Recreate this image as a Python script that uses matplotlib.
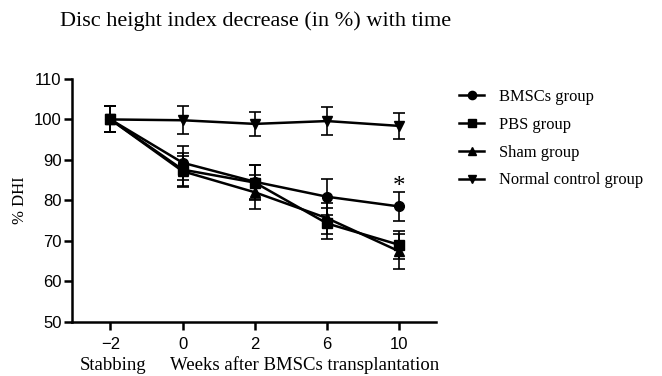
import matplotlib.pyplot as plt

# % DHI over time, four groups
weeks = ["\u22122", "0", "2", "6", "10"]
bmsc = [100, 89.3, 84.6, 80.9, 78.5]
bmsc_err = [3.2, 4.2, 4.2, 4.4, 3.5]
pbs = [100, 87.6, 84.4, 74.3, 69.0]
pbs_err = [3.2, 4.0, 4.3, 3.8, 3.5]
sham = [100, 87.2, 82.0, 75.6, 67.4]
sham_err = [3.2, 3.8, 4.2, 3.8, 4.4]
normal = [100, 99.8, 98.9, 99.6, 98.4]
normal_err = [3.2, 3.4, 3.0, 3.5, 3.3]

serif = ["Liberation Serif", "DejaVu Serif"]
sans = ["Liberation Sans", "DejaVu Sans"]

fig = plt.figure(figsize=(6.62, 3.76), dpi=100)
ax = fig.add_axes([0.109, 0.144, 0.55, 0.646])

x = list(range(len(weeks)))
series = [(bmsc, bmsc_err, "o", "BMSCs group"),
          (pbs, pbs_err, "s", "PBS group"),
          (sham, sham_err, "^", "Sham group"),
          (normal, normal_err, "v", "Normal control group")]
handles = []
for vals, err, m, lab in series:
    c = ax.errorbar(x, vals, yerr=err, color="black", marker=m, markersize=7,
                    linewidth=1.8, elinewidth=1.2, capsize=4, capthick=1.2)
    handles.append(c[0])

# significance mark
ax.text(x[-1], bmsc[-1] + 2.0, "*", ha="center", va="bottom", fontsize=18, family=serif)

ax.set_xlim(-0.53, 4.51)
ax.set_ylim(50, 110)
ax.set_yticks(range(50, 111, 10))
ax.set_xticks(x)
ax.set_xticklabels(weeks)
for lbl in ax.get_xticklabels() + ax.get_yticklabels():
    lbl.set_family(sans)
    lbl.set_fontsize(12)
ax.tick_params(direction="out", length=6, width=1.8)
ax.tick_params(axis="x", pad=5)
ax.tick_params(axis="y", pad=1.5)
ax.spines["top"].set_visible(False)
ax.spines["right"].set_visible(False)
ax.spines["left"].set_linewidth(1.8)
ax.spines["bottom"].set_linewidth(1.8)

ax.set_ylabel("% DHI", family=serif, fontsize=12, labelpad=4)
fig.text(0.121, 0.029, "Stabbing", family=serif, fontsize=13.5, ha="left", va="center")
fig.text(0.257, 0.029, "Weeks after BMSCs transplantation", family=serif, fontsize=13.5,
         ha="left", va="center")
fig.text(0.09, 0.944, "Disc height index decrease (in %) with time", family=serif,
         fontsize=16, ha="left", va="center")

fig.legend(handles, [s[3] for s in series], loc="upper left",
           bbox_to_anchor=(0.693, 0.764), frameon=False, borderpad=0, borderaxespad=0,
           prop={"family": serif, "size": 11.9}, handlelength=1.55, markerscale=0.85,
           labelspacing=0.72, handletextpad=0.9)

fig.savefig("out.png", dpi=100)
